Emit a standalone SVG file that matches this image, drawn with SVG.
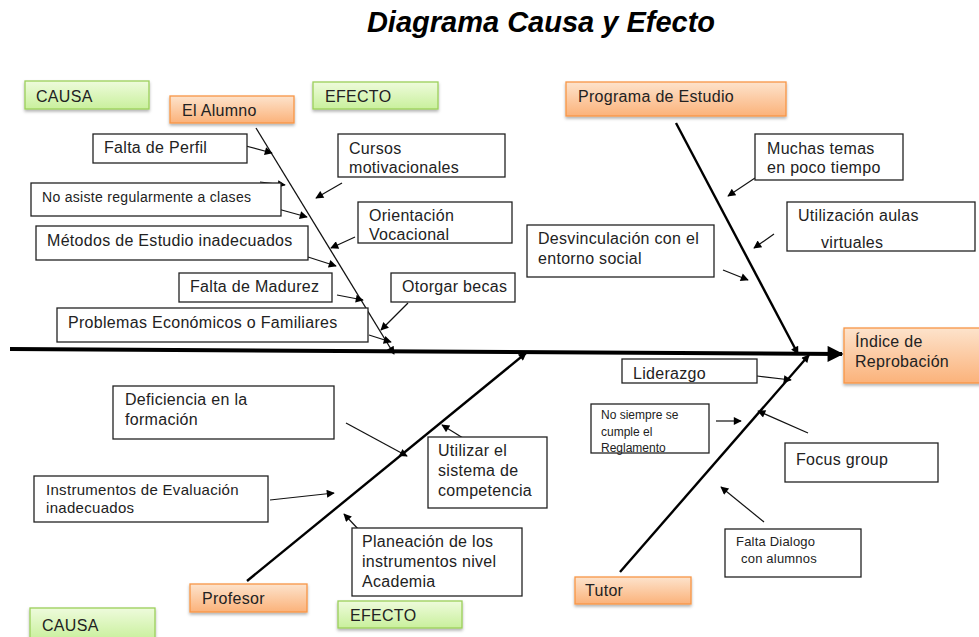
<svg xmlns="http://www.w3.org/2000/svg" width="979" height="637" viewBox="0 0 979 637">
<defs>
<linearGradient id="gGreen" x1="0" y1="0" x2="0" y2="1"><stop offset="0" stop-color="#eefbdc"/><stop offset="1" stop-color="#c9f09c"/></linearGradient>
<linearGradient id="gOrange" x1="0" y1="0" x2="0" y2="1"><stop offset="0" stop-color="#fde3cc"/><stop offset="1" stop-color="#fbb27a"/></linearGradient>
<filter id="sh" x="-10%" y="-20%" width="130%" height="160%"><feDropShadow dx="0" dy="2" stdDeviation="1.5" flood-color="#000" flood-opacity="0.3"/></filter>
<marker id="ah" viewBox="0 0 10 10" refX="9" refY="5" markerWidth="10" markerHeight="8" markerUnits="userSpaceOnUse" orient="auto"><path d="M0,0 L10,5 L0,10 z" fill="#000"/></marker>
<marker id="ahBig" viewBox="0 0 10 10" refX="9" refY="5" markerWidth="20" markerHeight="16" markerUnits="userSpaceOnUse" orient="auto"><path d="M0,0 L10,5 L0,10 z" fill="#000"/></marker>
</defs>
<style>
text{font-family:"Liberation Sans",Arial,sans-serif;font-size:16px;letter-spacing:0.3px;fill:#222}
.box{fill:#fff;stroke:#222;stroke-width:1.3}
.green{fill:url(#gGreen);stroke:#9bcf5a;stroke-width:1.3;filter:url(#sh)}
.orange{fill:url(#gOrange);stroke:#f79646;stroke-width:1.3;filter:url(#sh)}
.thin{stroke:#111;stroke-width:1.2;fill:none;marker-end:url(#ah)}
.bone{stroke:#000;stroke-width:2.4;fill:none;marker-end:url(#ah)}
.small{font-size:14px}
.mid{font-size:15px}
.xs{font-size:12px;letter-spacing:0}
.xs2{font-size:13px;letter-spacing:0.2px}
</style>
<rect width="979" height="637" fill="#fff"/>
<text x="541" y="32" text-anchor="middle" style="font-size:29px;font-weight:bold;font-style:italic;fill:#000;letter-spacing:0">Diagrama Causa y Efecto</text>

<g id="connectors">
<line x1="10" y1="349" x2="842" y2="354" stroke="#000" stroke-width="4" marker-end="url(#ahBig)"/>
<line x1="256" y1="128" x2="394" y2="354" stroke="#111" stroke-width="1.3" marker-end="url(#ah)"/>
<line x1="676" y1="123" x2="798" y2="354" class="bone"/>
<line x1="247" y1="581" x2="526" y2="353" class="bone"/>
<line x1="620" y1="572" x2="809" y2="355" class="bone"/>
<line x1="242" y1="145" x2="272" y2="153" class="thin"/>
<line x1="342" y1="183" x2="316" y2="198" class="thin"/>
<line x1="260" y1="182" x2="285" y2="185" class="thin"/>
<line x1="278" y1="209" x2="307" y2="217" class="thin"/>
<line x1="355" y1="237" x2="331" y2="248" class="thin"/>
<line x1="308" y1="257" x2="336" y2="266" class="thin"/>
<line x1="337" y1="295" x2="363" y2="300" class="thin"/>
<line x1="408" y1="303" x2="381" y2="330" class="thin"/>
<line x1="369" y1="335" x2="391" y2="342" class="thin"/>
<line x1="755" y1="178" x2="728" y2="196" class="thin"/>
<line x1="774" y1="234" x2="754" y2="248" class="thin"/>
<line x1="723" y1="270" x2="748" y2="280" class="thin"/>
<line x1="757" y1="376" x2="791" y2="380" class="thin"/>
<line x1="716" y1="421" x2="741" y2="421" class="thin"/>
<line x1="808" y1="433" x2="758" y2="411" class="thin"/>
<line x1="764" y1="522" x2="721" y2="487" class="thin"/>
<line x1="346" y1="423" x2="407" y2="456" class="thin"/>
<line x1="463" y1="438" x2="442" y2="425" class="thin"/>
<line x1="270" y1="500" x2="334" y2="493" class="thin"/>
<line x1="360" y1="531" x2="344" y2="514" class="thin"/>
</g>

<g id="causa-top"><rect class="green" x="25" y="81" width="124" height="28"/><text x="36" y="102">CAUSA</text></g>
<g id="efecto-top"><rect class="green" x="313" y="82" width="125" height="27"/><text x="325" y="102">EFECTO</text></g>
<g id="el-alumno"><rect class="orange" x="170" y="96" width="124" height="27"/><text x="182" y="116">El Alumno</text></g>
<g id="programa"><rect class="orange" x="566" y="82" width="220" height="34"/><text x="578" y="102">Programa de Estudio</text></g>
<g id="indice"><rect class="orange" x="844" y="328" width="140" height="55"/><text x="855" y="347">Índice de</text><text x="855" y="367">Reprobación</text></g>
<g id="profesor"><rect class="orange" x="190" y="584" width="117" height="28"/><text x="202" y="604">Profesor</text></g>
<g id="tutor"><rect class="orange" x="575" y="577" width="116" height="27"/><text x="585" y="596">Tutor</text></g>
<g id="causa-bottom"><rect class="green" x="30" y="608" width="125" height="32"/><text x="42" y="631">CAUSA</text></g>
<g id="efecto-bottom"><rect class="green" x="338" y="601" width="124" height="27"/><text x="350" y="621">EFECTO</text></g>

<g id="falta-perfil"><rect class="box" x="93" y="134" width="154" height="29"/><text x="104" y="153">Falta de Perfil</text></g>
<g id="cursos"><rect class="box" x="338" y="134" width="167" height="43"/><text x="349" y="154">Cursos</text><text x="349" y="173">motivacionales</text></g>
<g id="no-asiste"><rect class="box" x="31" y="183" width="250" height="33"/><text x="42" y="202" class="small">No asiste regularmente a clases</text></g>
<g id="orientacion"><rect class="box" x="358" y="202" width="154" height="41"/><text x="369" y="221">Orientación</text><text x="369" y="240">Vocacional</text></g>
<g id="metodos"><rect class="box" x="36" y="226" width="272" height="34"/><text x="47" y="246">Métodos de Estudio inadecuados</text></g>
<g id="falta-madurez"><rect class="box" x="179" y="273" width="153" height="29"/><text x="190" y="292">Falta de Madurez</text></g>
<g id="otorgar"><rect class="box" x="391" y="273" width="124" height="29"/><text x="402" y="292">Otorgar becas</text></g>
<g id="problemas"><rect class="box" x="57" y="308" width="311" height="34"/><text x="68" y="328">Problemas Económicos o Familiares</text></g>
<g id="muchas"><rect class="box" x="755" y="134" width="148" height="46"/><text x="767" y="154">Muchas temas</text><text x="767" y="173">en poco tiempo</text></g>
<g id="utilizacion"><rect class="box" x="787" y="202" width="188" height="49"/><text x="798" y="221">Utilización aulas</text><text x="821" y="248">virtuales</text></g>
<g id="desvinculacion"><rect class="box" x="527" y="225" width="187" height="52"/><text x="538" y="244">Desvinculación con el</text><text x="538" y="264">entorno social</text></g>
<g id="liderazgo"><rect class="box" x="622" y="359" width="135" height="24"/><text x="633" y="379">Liderazgo</text></g>
<g id="no-siempre"><rect class="box" x="591" y="404" width="118" height="49"/><text x="601" y="419" class="xs">No siempre se</text><text x="601" y="436" class="xs">cumple el</text><text x="601" y="452" class="xs">Reglamento</text></g>
<g id="focus"><rect class="box" x="785" y="443" width="153" height="39"/><text x="796" y="465">Focus group</text></g>
<g id="falta-dialogo"><rect class="box" x="725" y="529" width="136" height="48"/><text x="736" y="546" class="xs2">Falta  Dialogo</text><text x="741" y="563" class="xs2">con alumnos</text></g>
<g id="deficiencia"><rect class="box" x="113" y="386" width="221" height="53"/><text x="125" y="405">Deficiencia en la</text><text x="125" y="425">formación</text></g>
<g id="utilizar"><rect class="box" x="428" y="437" width="119" height="71"/><text x="438" y="456">Utilizar el</text><text x="438" y="476">sistema de</text><text x="438" y="496">competencia</text></g>
<g id="instrumentos"><rect class="box" x="34" y="476" width="234" height="46"/><text x="46" y="495" class="mid">Instrumentos de Evaluación</text><text x="46" y="513" class="mid">inadecuados</text></g>
<g id="planeacion"><rect class="box" x="352" y="528" width="170" height="68"/><text x="362" y="547">Planeación de los</text><text x="362" y="567">instrumentos nivel</text><text x="362" y="587">Academia</text></g>
</svg>
